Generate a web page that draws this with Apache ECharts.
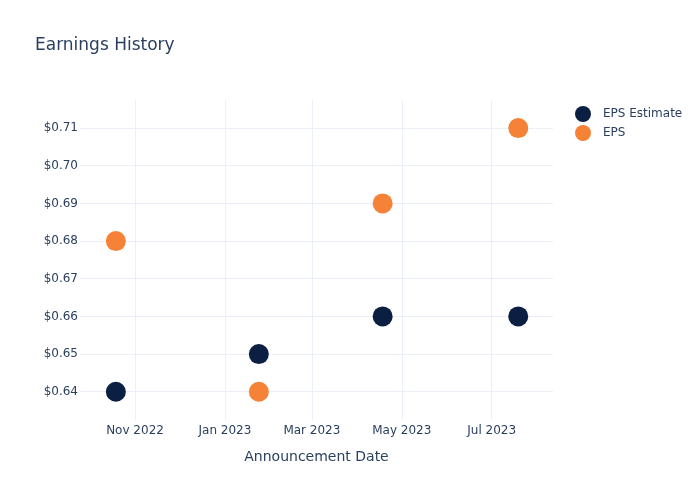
<!DOCTYPE html>
<html><head><meta charset="utf-8">
<script src="https://cdn.jsdelivr.net/npm/echarts@6/dist/echarts.min.js"></script>
<style>html,body{margin:0;padding:0;background:#fff}#c{width:700px;height:500px}</style>
</head><body><div id="c"></div>
<script>
const dates = ['2022-10-19', '2023-01-24', '2023-04-18', '2023-07-19'];
const epsEstimate = [0.64, 0.65, 0.66, 0.66];
const eps = [0.68, 0.64, 0.69, 0.71];
const xTicks = ['2022-11-01', '2023-01-01', '2023-03-01', '2023-05-01', '2023-07-01'];
const yTicks = [0.64, 0.65, 0.66, 0.67, 0.68, 0.69, 0.70, 0.71];
const monthNames = ['Jan','Feb','Mar','Apr','May','Jun','Jul','Aug','Sep','Oct','Nov','Dec'];

const ts = d => new Date(d + 'T00:00:00').getTime();
const txt = '#2a3f5f';
const font = 'DejaVu Sans, Open Sans, sans-serif';
const chart = echarts.init(document.getElementById('c'), null, {renderer: 'canvas'});
const xTickTs = xTicks.map(ts);
chart.setOption({
  animation: false,
  textStyle: {fontFamily: font},
  title: {text: 'Earnings History', left: 30, top: 32,
    textStyle: {fontFamily: font, fontSize: 17, fontWeight: 'normal', color: txt}},
  legend: {orient: 'vertical', left: 570, top: 101, itemGap: 3, itemWidth: 16, itemHeight: 16,
    icon: 'circle', textStyle: {fontFamily: font, fontSize: 12, color: txt, padding: [0, 0, 0, 7]},
    data: ['EPS Estimate', 'EPS']},
  grid: {left: 80, right: 147, top: 100, bottom: 80, containLabel: false},
  xAxis: {
    type: 'value',
    min: new Date('2022-09-24T16:00:00').getTime(),
    max: new Date('2023-08-11T14:00:00').getTime(),
    name: 'Announcement Date', nameLocation: 'middle', nameGap: 30,
    nameTextStyle: {fontFamily: font, fontSize: 14, color: txt},
    axisLine: {show: false},
    axisTick: {show: false, customValues: xTickTs},
    axisLabel: {customValues: xTickTs, fontFamily: font, fontSize: 12, color: txt, margin: 5,
      formatter: v => { const d = new Date(v); return monthNames[d.getMonth()] + ' ' + d.getFullYear(); }},
    splitLine: {show: true, lineStyle: {color: '#EBF0F8', width: 1}}
  },
  yAxis: {
    type: 'value', min: 0.6325, max: 0.71745,
    axisLine: {show: false},
    axisTick: {show: false, customValues: yTicks},
    axisLabel: {customValues: yTicks, fontFamily: font, fontSize: 12, color: txt, margin: 2,
      formatter: v => '$' + v.toFixed(2)},
    splitLine: {show: true, lineStyle: {color: '#EBF0F8', width: 1}}
  },
  series: [
    {name: 'EPS Estimate', type: 'scatter', symbolSize: 20,
      itemStyle: {color: '#0b1f42', opacity: 1},
      data: dates.map((d, i) => [ts(d), epsEstimate[i]])},
    {name: 'EPS', type: 'scatter', symbolSize: 20,
      itemStyle: {color: '#f58236', opacity: 1},
      data: dates.map((d, i) => [ts(d), eps[i]])}
  ]
});
</script></body></html>
